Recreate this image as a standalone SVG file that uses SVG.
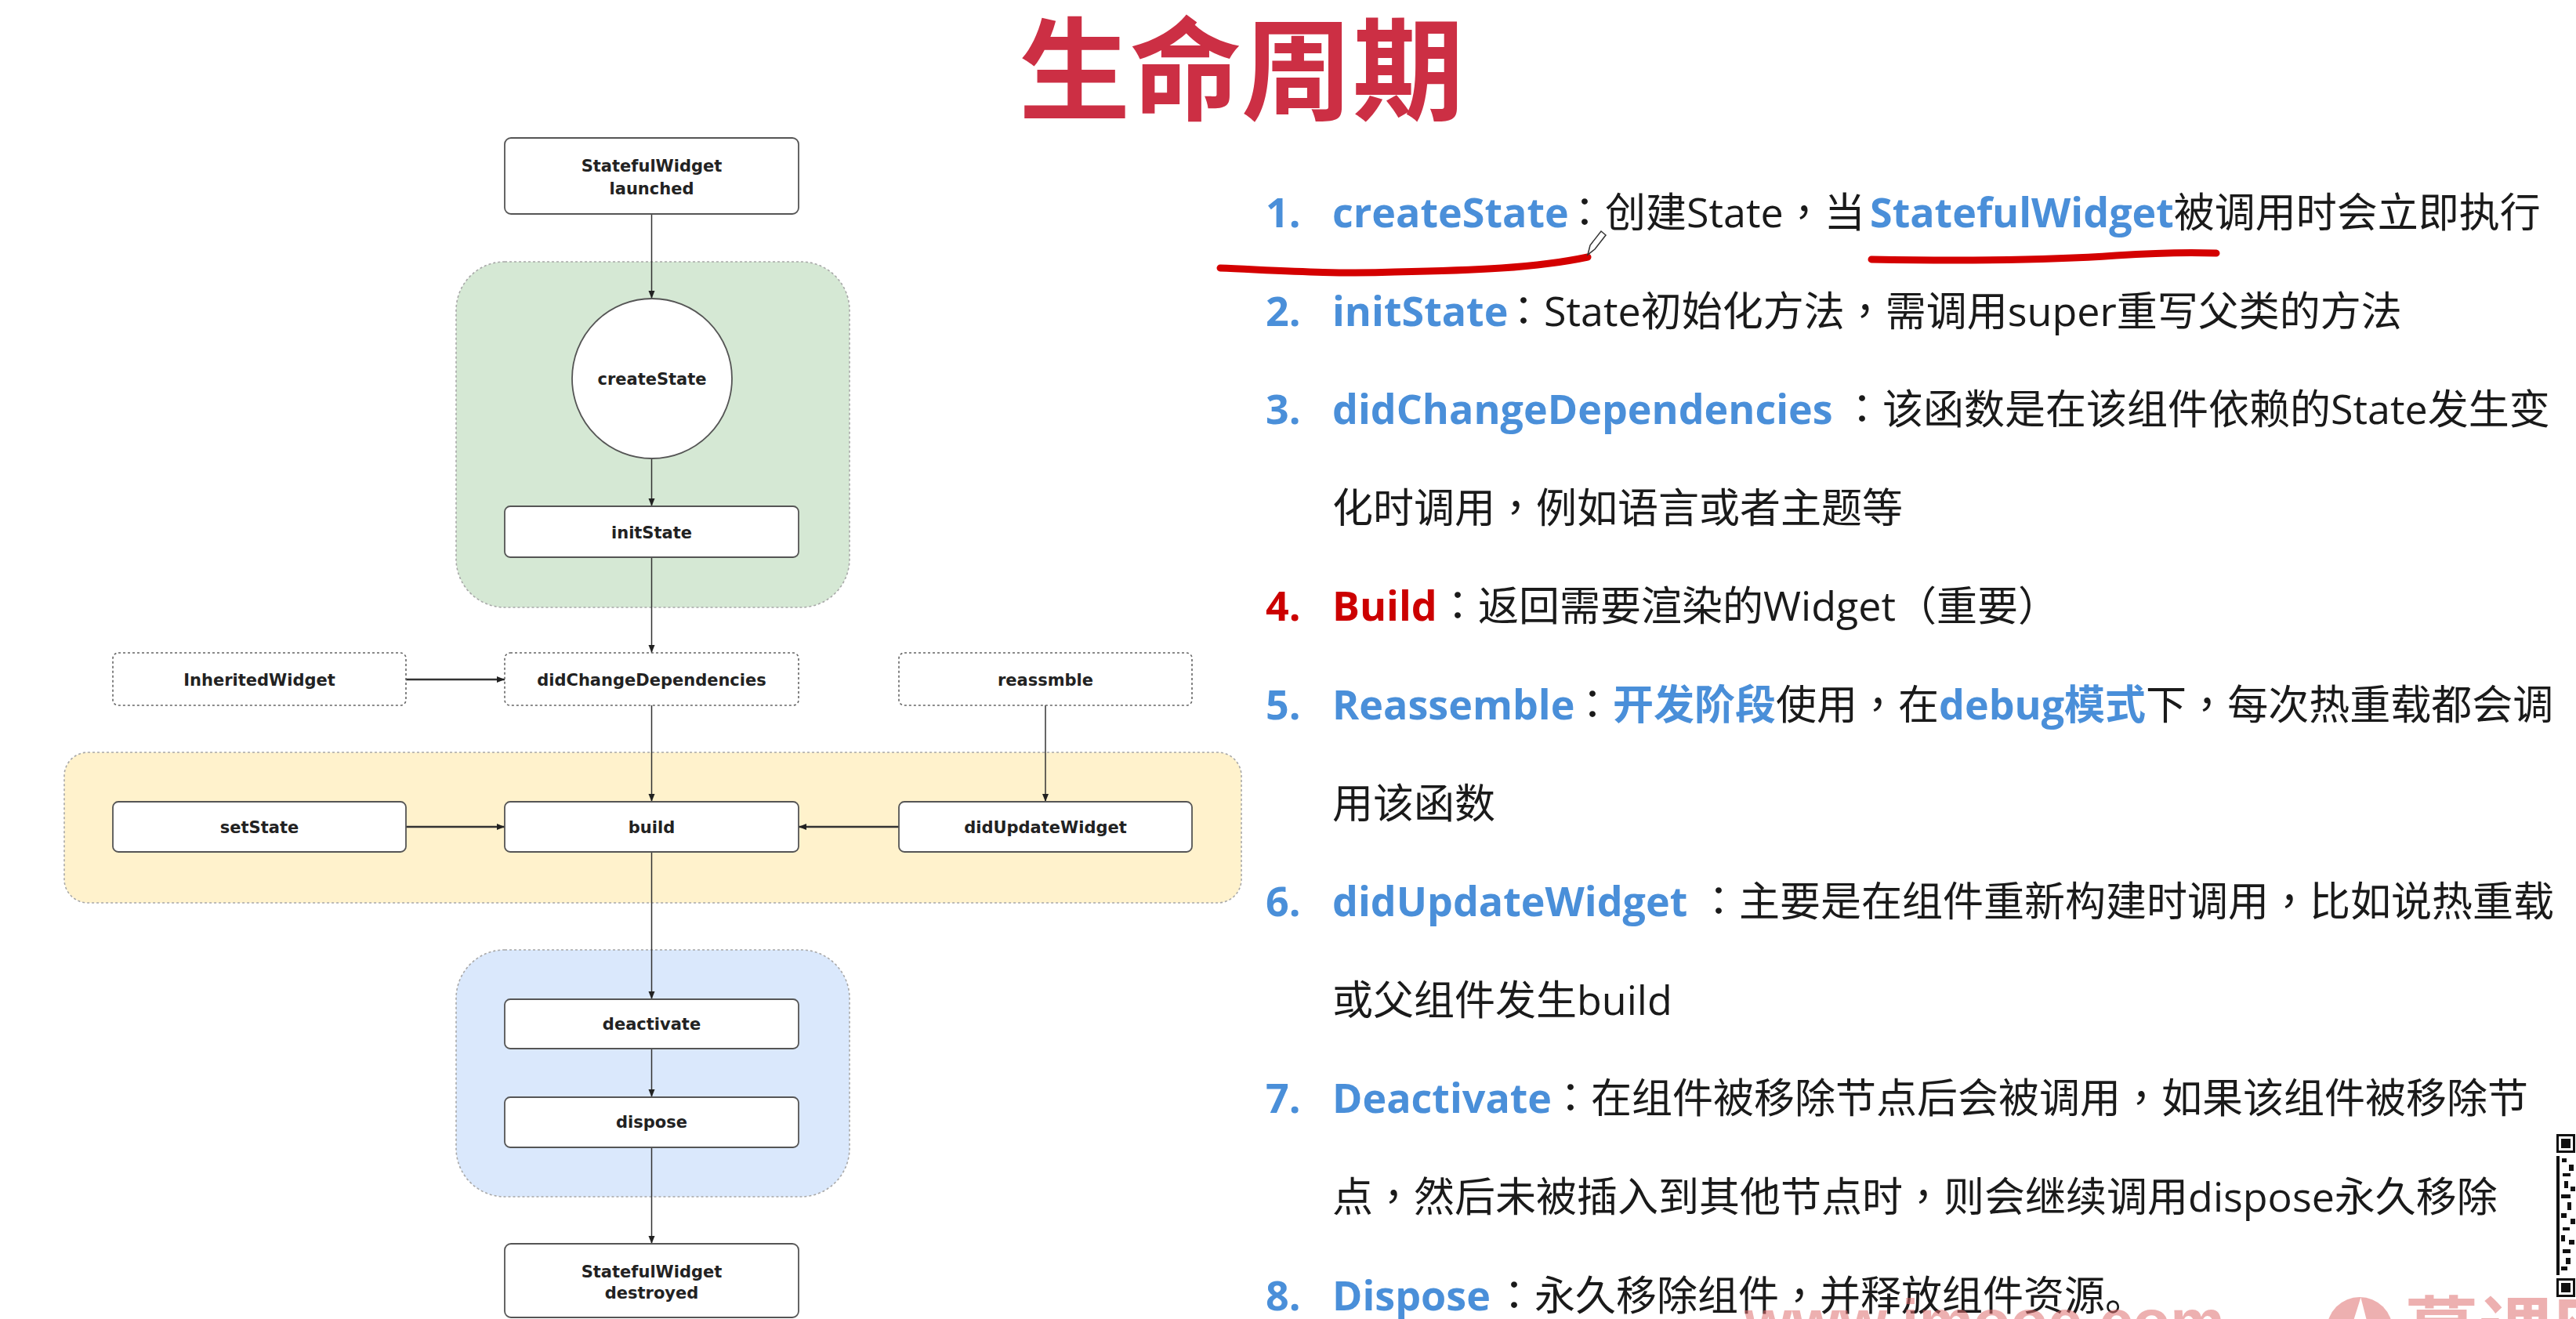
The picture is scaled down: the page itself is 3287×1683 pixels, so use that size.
<svg xmlns="http://www.w3.org/2000/svg" width="3287" height="1683" viewBox="0 0 3287 1683">
<defs>
<marker id="arr" viewBox="0 0 10 10" refX="10" refY="5" markerWidth="10" markerHeight="10" markerUnits="userSpaceOnUse" orient="auto">
<path d="M0,1 L10,5 L0,9 Z" fill="#222"/>
</marker>
<style>
.region{stroke:#a8a8a8;stroke-width:1.6;stroke-dasharray:3 3}
.node{fill:#fff;stroke:#555;stroke-width:1.8}
.dnode{fill:#fff;stroke:#666;stroke-width:1.6;stroke-dasharray:3 3}
.nt{font-family:"DejaVu Sans","Liberation Sans",sans-serif;font-weight:bold;font-size:21px;fill:#222;text-anchor:middle}
.conn{stroke:#333;stroke-width:1.5;fill:none}
.thick{stroke-width:2.6}
.body{font-family:"Open Sans","Noto Sans CJK SC",sans-serif;font-size:52px;fill:#1a1a1a}
.kw{font-weight:bold;fill:#4a8fd9}
.red{font-weight:bold;fill:#cc0000}
.p{font-family:"Noto Sans CJK TC",sans-serif}
.ul{fill:none;stroke:#d40000;stroke-width:9;stroke-linecap:round}
</style>
</defs>
<rect width="3287" height="1683" fill="#fff"/>

<text x="1584" y="142" font-family="Noto Sans CJK SC, sans-serif" font-weight="bold" font-size="142" fill="#cc2f44" text-anchor="middle">生命周期</text>

<g id="regions">
<rect id="region-init" class="region" x="582" y="334" width="502" height="441" rx="62" fill="#d5e8d4"/>
<rect id="region-build" class="region" x="82" y="960" width="1502" height="192" rx="30" fill="#fff2cc"/>
<rect id="region-dispose" class="region" x="582" y="1212" width="502" height="315" rx="62" fill="#dae8fc"/>
</g>

<g id="connectors">
<line class="conn" x1="831.5" y1="273" x2="831.5" y2="381" marker-end="url(#arr)"/>
<line class="conn" x1="831.5" y1="586" x2="831.5" y2="646" marker-end="url(#arr)"/>
<line class="conn" x1="831.5" y1="711" x2="831.5" y2="833" marker-end="url(#arr)"/>
<line class="conn thick" x1="518" y1="867" x2="644" y2="867" marker-end="url(#arr)"/>
<line class="conn" x1="831.5" y1="900" x2="831.5" y2="1023" marker-end="url(#arr)"/>
<line class="conn" x1="1334" y1="900" x2="1334" y2="1023" marker-end="url(#arr)"/>
<line class="conn thick" x1="518" y1="1055" x2="644" y2="1055" marker-end="url(#arr)"/>
<line class="conn thick" x1="1147" y1="1055" x2="1019" y2="1055" marker-end="url(#arr)"/>
<line class="conn" x1="831.5" y1="1087" x2="831.5" y2="1275" marker-end="url(#arr)"/>
<line class="conn" x1="831.5" y1="1338" x2="831.5" y2="1400" marker-end="url(#arr)"/>
<line class="conn" x1="831.5" y1="1464" x2="831.5" y2="1587" marker-end="url(#arr)"/>
</g>

<g id="node-launched">
<rect class="node" x="644" y="176" width="375" height="97" rx="8"/>
<text class="nt" x="831.5" y="219">StatefulWidget</text>
<text class="nt" x="831.5" y="248">launched</text>
</g>
<g id="node-createState">
<circle class="node" cx="832" cy="483" r="102"/>
<text class="nt" x="832" y="491">createState</text>
</g>
<g id="node-initState">
<rect class="node" x="644" y="646" width="375" height="65" rx="7"/>
<text class="nt" x="831.5" y="687">initState</text>
</g>
<g id="node-inheritedWidget">
<rect class="dnode" x="144" y="833" width="374" height="67" rx="7"/>
<text class="nt" x="331" y="875">InheritedWidget</text>
</g>
<g id="node-didChangeDependencies">
<rect class="dnode" x="644" y="833" width="375" height="67" rx="7"/>
<text class="nt" x="831.5" y="875">didChangeDependencies</text>
</g>
<g id="node-reassmble">
<rect class="dnode" x="1147" y="833" width="374" height="67" rx="7"/>
<text class="nt" x="1334" y="875">reassmble</text>
</g>
<g id="node-setState">
<rect class="node" x="144" y="1023" width="374" height="64" rx="7"/>
<text class="nt" x="331" y="1063">setState</text>
</g>
<g id="node-build">
<rect class="node" x="644" y="1023" width="375" height="64" rx="7"/>
<text class="nt" x="831.5" y="1063">build</text>
</g>
<g id="node-didUpdateWidget">
<rect class="node" x="1147" y="1023" width="374" height="64" rx="7"/>
<text class="nt" x="1334" y="1063">didUpdateWidget</text>
</g>
<g id="node-deactivate">
<rect class="node" x="644" y="1275" width="375" height="63" rx="7"/>
<text class="nt" x="831.5" y="1314">deactivate</text>
</g>
<g id="node-dispose">
<rect class="node" x="644" y="1400" width="375" height="64" rx="7"/>
<text class="nt" x="831.5" y="1439">dispose</text>
</g>
<g id="node-destroyed">
<rect class="node" x="644" y="1587" width="375" height="94" rx="8"/>
<text class="nt" x="831.5" y="1630">StatefulWidget</text>
<text class="nt" x="831.5" y="1657">destroyed</text>
</g>

<g id="notes">
<text class="body" y="290"><tspan x="1615" class="kw">1.</tspan><tspan x="1700" class="kw">createState</tspan><tspan x="1996" class="p">：</tspan><tspan>创建State</tspan><tspan class="p">，</tspan><tspan>当</tspan><tspan x="2386" class="kw">StatefulWidget</tspan><tspan>被调用时会立即执行</tspan></text>
<text class="body" y="416"><tspan x="1615" class="kw">2.</tspan><tspan x="1700" class="kw">initState</tspan><tspan x="1918" class="p">：</tspan><tspan>State初始化方法</tspan><tspan class="p">，</tspan><tspan>需调用super重写父类的方法</tspan></text>
<text class="body" y="541"><tspan x="1615" class="kw">3.</tspan><tspan x="1700" class="kw">didChangeDependencies</tspan><tspan x="2350" class="p">：</tspan><tspan>该函数是在该组件依赖的State发生变</tspan></text>
<text class="body" y="667"><tspan x="1700">化时调用</tspan><tspan class="p">，</tspan><tspan>例如语言或者主题等</tspan></text>
<text class="body" y="792"><tspan x="1615" class="red">4.</tspan><tspan x="1700" class="red">Build</tspan><tspan x="1834" class="p">：</tspan><tspan>返回需要渲染的Widget（重要）</tspan></text>
<text class="body" y="918"><tspan x="1615" class="kw">5.</tspan><tspan x="1700" class="kw">Reassemble</tspan><tspan x="2006" class="p">：</tspan><tspan x="2058" class="kw">开发阶段</tspan><tspan x="2266">使用</tspan><tspan class="p">，</tspan><tspan>在</tspan><tspan x="2474" class="kw">debug模式</tspan><tspan>下</tspan><tspan class="p">，</tspan><tspan>每次热重载都会调</tspan></text>
<text class="body" x="1700" y="1044">用该函数</text>
<text class="body" y="1169"><tspan x="1615" class="kw">6.</tspan><tspan x="1700" class="kw">didUpdateWidget</tspan><tspan x="2167" class="p">：</tspan><tspan>主要是在组件重新构建时调用</tspan><tspan class="p">，</tspan><tspan>比如说热重载</tspan></text>
<text class="body" x="1700" y="1295">或父组件发生build</text>
<text class="body" y="1420"><tspan x="1615" class="kw">7.</tspan><tspan x="1700" class="kw">Deactivate</tspan><tspan x="1978" class="p">：</tspan><tspan>在组件被移除节点后会被调用</tspan><tspan class="p">，</tspan><tspan>如果该组件被移除节</tspan></text>
<text class="body" y="1546"><tspan x="1700">点</tspan><tspan class="p">，</tspan><tspan>然后未被插入到其他节点时</tspan><tspan class="p">，</tspan><tspan>则会继续调用dispose永久移除</tspan></text>
<text class="body" y="1672"><tspan x="1615" class="kw">8.</tspan><tspan x="1700" class="kw">Dispose</tspan><tspan x="1906" class="p">：</tspan><tspan>永久移除组件</tspan><tspan class="p">，</tspan><tspan>并释放组件资源。</tspan></text>
</g>

<g id="annotations">
<path class="ul" d="M1557,342 C1630,345 1700,350 1780,347 C1880,345 1960,342 2026,328"/>
<path class="ul" d="M2388,331 C2500,333 2600,333 2700,326 C2760,322 2800,322 2828,323"/>
<path d="M2026,325 L2029,313 L2043,295 L2049,300 L2035,318 Z" fill="#fff" stroke="#333" stroke-width="1.5"/>
</g>

<g id="watermark" opacity="0.55">
<text x="2226" y="1713" font-family="Liberation Sans, sans-serif" font-weight="bold" font-size="78" fill="#e07070">www.imooc.com</text>
<circle cx="3011" cy="1697" r="42" fill="#e07070"/>
<path d="M2990,1740 L3012,1670 L3030,1740" fill="none" stroke="#fff" stroke-width="8"/>
<text x="3068" y="1734" font-family="Noto Sans CJK SC, sans-serif" font-weight="bold" font-size="95" fill="#e07070">慕课网</text>
</g>

<g id="qr">
<rect x="3262" y="1447" width="25" height="210" fill="#fff"/>
<rect x="3262" y="1447" width="24" height="24" fill="#111"/>
<rect x="3265" y="1450" width="18" height="18" fill="#fff"/>
<rect x="3268" y="1453" width="12" height="12" fill="#111"/>
<rect x="3262" y="1631" width="24" height="24" fill="#111"/>
<rect x="3265" y="1634" width="18" height="18" fill="#fff"/>
<rect x="3268" y="1637" width="12" height="12" fill="#111"/>
<rect x="3262" y="1475" width="4" height="152" fill="#111"/>
<rect x="3269" y="1478" width="6" height="5" fill="#111"/>
<rect x="3278" y="1486" width="6" height="8" fill="#111"/>
<rect x="3270" y="1497" width="10" height="4" fill="#111"/>
<rect x="3272" y="1507" width="5" height="9" fill="#111"/>
<rect x="3280" y="1514" width="6" height="6" fill="#111"/>
<rect x="3268" y="1524" width="12" height="5" fill="#111"/>
<rect x="3276" y="1534" width="5" height="10" fill="#111"/>
<rect x="3268" y="1548" width="7" height="6" fill="#111"/>
<rect x="3280" y="1555" width="6" height="7" fill="#111"/>
<rect x="3270" y="1566" width="9" height="4" fill="#111"/>
<rect x="3268" y="1576" width="5" height="8" fill="#111"/>
<rect x="3278" y="1582" width="7" height="6" fill="#111"/>
<rect x="3270" y="1594" width="10" height="5" fill="#111"/>
<rect x="3274" y="1605" width="6" height="8" fill="#111"/>
<rect x="3268" y="1616" width="8" height="5" fill="#111"/>
</g>
</svg>
